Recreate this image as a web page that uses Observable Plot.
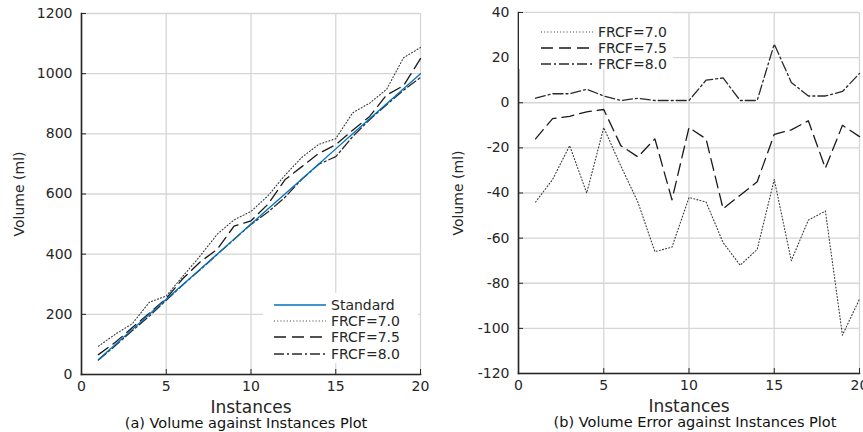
<!DOCTYPE html>
<html>
<head>
<meta charset="utf-8">
<script src="https://cdn.jsdelivr.net/npm/d3@7"></script>
<script src="https://cdn.jsdelivr.net/npm/@observablehq/plot@0.6"></script>
<style>
html, body { margin: 0; padding: 0; background: #fff; overflow: hidden; }
#wrap { position: relative; width: 863px; height: 432px; font-family: "DejaVu Sans", sans-serif; }
.panel { position: absolute; top: 0; }
.legend { position: absolute; background: #fff; font-size: 14px; color: #262626; }
.legend .row { position: absolute; height: 16px; display: flex; align-items: center; white-space: nowrap; }
.legend svg { display: block; }
</style>
</head>
<body>
<div id="wrap"></div>
<script>
// ---------- data ----------
const instances = [1, 2, 3, 4, 5, 6, 7, 8, 9, 10, 11, 12, 13, 14, 15, 16, 17, 18, 19, 20];

// (a) measured volume (ml)
const volStandard = [50, 100, 150, 200, 250, 300, 350, 400, 450, 500, 550, 600, 650, 700, 750, 800, 850, 900, 950, 1000];
const volFRCF70   = [94, 134, 169, 240, 261, 328, 394, 466, 514, 542, 594, 662, 722, 765, 784, 870, 902, 948, 1053, 1087];
const volFRCF75   = [66, 107, 156, 204, 253, 320, 374, 416, 493, 511, 566, 647, 691, 735, 764, 812, 858, 929, 960, 1050];
const volFRCF80   = [48, 96, 146, 194, 247, 299, 348, 399, 449, 499, 540, 589, 649, 699, 724, 791, 847, 897, 945, 987];

// (b) volume error (ml)
const errFRCF70 = [-44, -34, -19, -40, -11, -28, -44, -66, -64, -42, -44, -62, -72, -65, -34, -70, -52, -48, -103, -87];
const errFRCF75 = [-16, -7, -6, -4, -3, -19, -24, -16, -43, -11, -16, -47, -41, -35, -14, -12, -8, -29, -10, -15];
const errFRCF80 = [2, 4, 4, 6, 3, 1, 2, 1, 1, 1, 10, 11, 1, 1, 26, 9, 3, 3, 5, 13];

// tick labels
const xTicks = [0, 5, 10, 15, 20];
const yTicksA = [0, 200, 400, 600, 800, 1000, 1200];
const yTicksB = [-120, -100, -80, -60, -40, -20, 0, 20, 40];

// text
const xLabel = "Instances";
const yLabel = "Volume (ml)";
const captionA = "(a) Volume against Instances Plot";
const captionB = "(b) Volume Error against Instances Plot";

// series styles
const styles = {
  "Standard": {stroke: "#0072BD", dash: null, width: 1.3},
  "FRCF=7.0": {stroke: "#3a3a3a", dash: "1,2.2", width: 1.1},
  "FRCF=7.5": {stroke: "#1a1a1a", dash: "12,6", width: 1.3},
  "FRCF=8.0": {stroke: "#2a2a2a", dash: "10,3,2,3", width: 1.3}
};

const seriesA = [
  ["FRCF=7.0", volFRCF70],
  ["FRCF=7.5", volFRCF75],
  ["FRCF=8.0", volFRCF80],
  ["Standard", volStandard]
];
const seriesB = [
  ["FRCF=7.0", errFRCF70],
  ["FRCF=7.5", errFRCF75],
  ["FRCF=8.0", errFRCF80]
];
const legendA = ["Standard", "FRCF=7.0", "FRCF=7.5", "FRCF=8.0"];
const legendB = ["FRCF=7.0", "FRCF=7.5", "FRCF=8.0"];

function rows(name, values) {
  return instances.map((x, i) => ({series: name, x, y: values[i]}));
}

const axisColor = "#262626";
const gridColor = "#d6d6d6";
const fmt = d => String(d);

function panel({yTicks, yDomain, series, caption, width, mL, mR, mT, mB, yLabelDx, captionDx}) {
  const marks = [
    Plot.gridX(xTicks, {stroke: gridColor, strokeOpacity: 1, strokeWidth: 1.3}),
    Plot.gridY(yTicks, {stroke: gridColor, strokeOpacity: 1, strokeWidth: 1.3})
  ];
  for (const [name, vals] of series) {
    const s = styles[name];
    marks.push(Plot.line(rows(name, vals), {
      x: "x", y: "y", stroke: s.stroke, strokeWidth: s.width,
      strokeDasharray: s.dash, strokeLinejoin: "round"
    }));
  }
  marks.push(
    Plot.frame({anchor: "left", stroke: axisColor, strokeWidth: 1.6}),
    Plot.frame({anchor: "bottom", stroke: axisColor, strokeWidth: 1.6}),
    Plot.axisX(xTicks, {anchor: "bottom", tickSize: 0, tickPadding: 7, label: null, fill: axisColor, fontSize: 14, tickFormat: fmt}),
    Plot.axisX(xTicks, {anchor: "bottom", tickSize: -5, fill: "none", stroke: axisColor, label: null}),
    Plot.axisY(yTicks, {anchor: "left", tickSize: 0, tickPadding: 9, label: null, fill: axisColor, fontSize: 14, tickFormat: fmt}),
    Plot.axisY(yTicks, {anchor: "left", tickSize: -5, fill: "none", stroke: axisColor, label: null}),
    Plot.text([xLabel], {frameAnchor: "bottom", lineAnchor: "middle", textAnchor: "middle", dy: 33, fontSize: 17, fill: axisColor, text: d => d}),
    Plot.text([caption], {frameAnchor: "bottom", lineAnchor: "middle", textAnchor: "middle", dy: 49, dx: captionDx, fontSize: 14.5, fill: "#111", text: d => d}),
    Plot.text([yLabel], {frameAnchor: "left", lineAnchor: "middle", textAnchor: "middle", rotate: -90, dx: yLabelDx, fontSize: 14, fill: axisColor, text: d => d})
  );
  return Plot.plot({
    width, height: 432,
    marginLeft: mL, marginRight: mR, marginTop: mT, marginBottom: mB,
    style: {fontFamily: "DejaVu Sans, sans-serif", fontSize: "14px", color: axisColor, background: "transparent"},
    x: {domain: [0, 20]},
    y: {domain: yDomain},
    marks
  });
}

function legend(names, {left, top, w, h, sampleX, textX, rowY}) {
  const box = document.createElement("div");
  box.className = "legend";
  Object.assign(box.style, {left: left + "px", top: top + "px", width: w + "px", height: h + "px"});
  names.forEach((name, i) => {
    const s = styles[name];
    const row = document.createElement("div");
    row.className = "row";
    row.style.left = sampleX + "px";
    row.style.top = (rowY[i] - 8) + "px";
    const svg = d3.create("svg").attr("width", 52).attr("height", 10);
    svg.append("line").attr("x1", 0).attr("x2", 52).attr("y1", 5).attr("y2", 5)
      .attr("stroke", s.stroke).attr("stroke-width", s.width)
      .attr("stroke-dasharray", s.dash);
    row.appendChild(svg.node());
    const t = document.createElement("span");
    t.textContent = name;
    t.style.marginLeft = (textX - sampleX - 52) + "px";
    row.appendChild(t);
    box.appendChild(row);
  });
  return box;
}

const wrap = document.getElementById("wrap");

const divA = document.createElement("div");
divA.className = "panel";
divA.style.left = "0px";
divA.style.width = "430px";
divA.appendChild(panel({
  yTicks: yTicksA, yDomain: [0, 1200], series: seriesA, caption: captionA,
  width: 430, mL: 81, mR: 10, mT: 13, mB: 58, yLabelDx: -62, captionDx: -5
}));
wrap.appendChild(divA);

const divB = document.createElement("div");
divB.className = "panel";
divB.style.left = "430px";
divB.style.width = "433px";
divB.appendChild(panel({
  yTicks: yTicksB, yDomain: [-120, 40], series: seriesB, caption: captionB,
  width: 433, mL: 88, mR: 4, mT: 12, mB: 59, yLabelDx: -60, captionDx: 6
}));
wrap.appendChild(divB);

wrap.appendChild(legend(legendA, {left: 263, top: 293, w: 155, h: 70, sampleX: 11, textX: 68, rowY: [12, 28, 44, 61]}));
wrap.appendChild(legend(legendB, {left: 519, top: 13, w: 154, h: 56, sampleX: 22, textX: 79, rowY: [19, 35, 51]}));
</script>
</body>
</html>
